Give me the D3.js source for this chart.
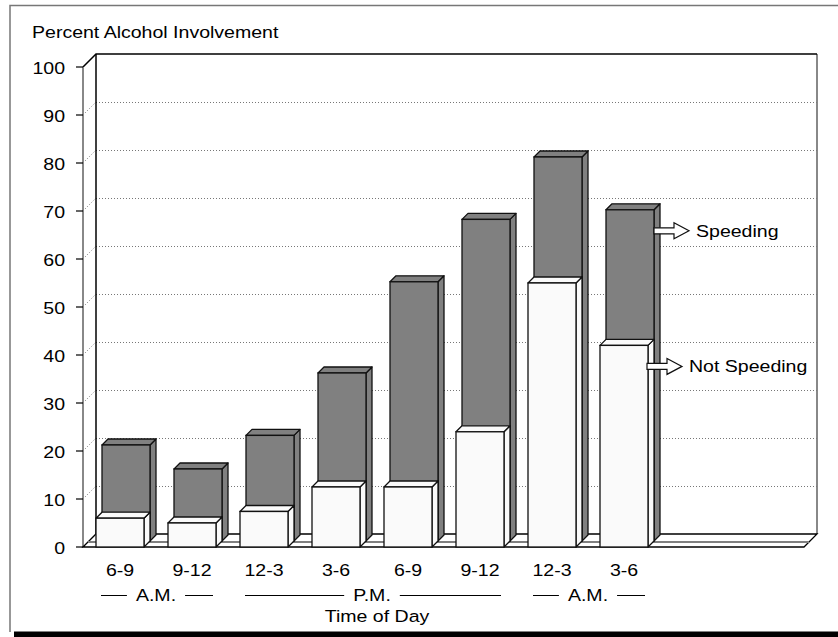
<!DOCTYPE html>
<html>
<head>
<meta charset="utf-8">
<script src="https://cdn.jsdelivr.net/npm/d3@7"></script>
<style>
  body { margin: 0; background: #fff; }
  text { font-family: "Liberation Sans", Arial, sans-serif; font-size: 17px; fill: #000; }
</style>
</head>
<body>
<div id="chart"></div>
<script>
// values
var timeLabels = ["6-9", "9-12", "12-3", "3-6", "6-9", "9-12", "12-3", "3-6"];
var speeding = [20, 15, 22, 35, 54, 67, 80, 69];
var notSpeeding = [6, 5, 7.4, 12.5, 12.5, 24, 55, 42];
var yTicks = [0, 10, 20, 30, 40, 50, 60, 70, 80, 90, 100];
var periods = [
    {name: "A.M.", first: 0, last: 1},
    {name: "P.M.", first: 2, last: 5},
    {name: "A.M.", first: 6, last: 7}
];
var slots = 10; // floor has room for 10 bars, only 8 used

var width = 838, height = 637;
var wallDepth = 13, barDepth = 6;
var stretch = 1.15; // text in the original is a bit wide

var svg = d3.select("#chart").append("svg")
    .attr("width", width)
    .attr("height", height);

var x = d3.scaleBand().domain(d3.range(slots)).range([84, 804])
    .paddingInner(1 / 3).paddingOuter(1 / 6);
var y = d3.scaleLinear().domain([0, 100]).range([547, 67]);

var left = 83, right = 804, base = y(0);

var addText = function(g, px, py, str, anchor) {
    return g.append("text")
        .attr("transform", "translate(" + px + "," + py + ") scale(" + stretch + ",1)")
        .style("text-anchor", anchor || "start")
        .text(str);
}

// outer frame
svg.append("path")
    .attr("d", "M10,632V5.5H" + (width + 5))
    .attr("fill", "none").attr("stroke", "#777").attr("stroke-width", 1.5);
svg.append("rect")
    .attr("x", 14).attr("y", 631.5).attr("width", width).attr("height", 6)
    .attr("fill", "#000");

addText(svg, 32, 38, "Percent Alcohol Involvement");

// back wall
var wall = svg.append("g");
wall.append("line")
    .attr("x1", right + wallDepth).attr("x2", right + wallDepth)
    .attr("y1", y(100) - wallDepth).attr("y2", base - wallDepth)
    .attr("stroke", "#888").attr("stroke-width", 2);

// grid lines on the wall and the side
var inner = yTicks.filter(function(d) { return d > 0 && d < 100; });
wall.selectAll("line.grid").data(inner)
    .enter().append("line")
    .attr("class", "grid")
    .attr("x1", left + wallDepth).attr("x2", right + wallDepth)
    .attr("y1", function(d) { return Math.round(y(d) - wallDepth) + 0.5; })
    .attr("y2", function(d) { return Math.round(y(d) - wallDepth) + 0.5; })
    .attr("stroke", "#777").attr("stroke-dasharray", "1,2");
wall.selectAll("line.diag").data(inner)
    .enter().append("line")
    .attr("class", "diag")
    .attr("x1", left).attr("x2", left + wallDepth)
    .attr("y1", function(d) { return y(d); })
    .attr("y2", function(d) { return y(d) - wallDepth; })
    .attr("stroke", "#777").attr("stroke-dasharray", "1,2");

wall.append("path")
    .attr("d", "M" + left + "," + y(100) + "L" + (left + wallDepth) + "," + (y(100) - wallDepth)
        + "H" + (right + wallDepth))
    .attr("fill", "none").attr("stroke", "#000").attr("stroke-width", 1.5);
wall.append("line")
    .attr("x1", left + wallDepth).attr("x2", left + wallDepth)
    .attr("y1", y(100) - wallDepth).attr("y2", base - wallDepth)
    .attr("stroke", "#000").attr("stroke-width", 1.5);
wall.append("line")
    .attr("x1", left).attr("x2", left)
    .attr("y1", y(100)).attr("y2", base)
    .attr("stroke", "#888").attr("stroke-width", 2);

// floor
var floor = svg.append("g");
floor.append("path")
    .attr("d", "M" + left + "," + base + "L" + (left + wallDepth) + "," + (base - wallDepth)
        + "H" + (right + wallDepth) + "L" + right + "," + base + "Z")
    .attr("fill", "#fff").attr("stroke", "#000").attr("stroke-width", 1.3);
floor.append("line")
    .attr("x1", left + 5).attr("x2", right + 5)
    .attr("y1", base - 5).attr("y2", base - 5)
    .attr("stroke", "#808080").attr("stroke-width", 2);

// y axis ticks
var axis = svg.append("g");
axis.selectAll("line").data(yTicks).enter().append("line")
    .attr("x1", left - 7).attr("x2", left)
    .attr("y1", function(d) { return y(d); })
    .attr("y2", function(d) { return y(d); })
    .attr("stroke", "#000").attr("stroke-width", 1.2);
yTicks.forEach(function(d) {
    addText(axis, 65, y(d) + 7, d, "end");
});

// one 3d box: front face, top, right side
var drawBox = function(g, x0, w, yTop, yBase, fill) {
    var d = barDepth;
    g.append("path")
        .attr("d", "M" + (x0 + w) + "," + yBase + "V" + yTop + "L" + (x0 + w + d) + "," + (yTop - d)
            + "V" + (yBase - d) + "Z")
        .attr("fill", fill).attr("stroke", "#111").attr("stroke-width", 1.3)
        .attr("stroke-linejoin", "round");
    g.append("path")
        .attr("d", "M" + x0 + "," + yTop + "L" + (x0 + d) + "," + (yTop - d) + "H" + (x0 + w + d)
            + "L" + (x0 + w) + "," + yTop + "Z")
        .attr("fill", fill).attr("stroke", "#111").attr("stroke-width", 1.3)
        .attr("stroke-linejoin", "round");
    g.append("rect")
        .attr("x", x0).attr("y", yTop).attr("width", w).attr("height", yBase - yTop)
        .attr("fill", fill).attr("stroke", "#111").attr("stroke-width", 1.3);
}

var bars = svg.append("g");
// back row: speeding
speeding.forEach(function(v, i) {
    drawBox(bars, x(i) + barDepth, x.bandwidth(), y(v) - barDepth, base - barDepth, "#808080");
});
// front row: not speeding
notSpeeding.forEach(function(v, i) {
    drawBox(bars, x(i), x.bandwidth(), y(v), base, "#fafafa");
});

// legend arrows on the last bar
var arrow = function(px, py) {
    return "M" + px + "," + (py - 3) + "H" + (px + 20) + "V" + (py - 8) + "L" + (px + 35) + "," + py
        + "L" + (px + 20) + "," + (py + 8) + "V" + (py + 3) + "H" + px + "Z";
}
var last = speeding.length - 1;
var legend = svg.append("g");
var lx1 = x(last) + barDepth + x.bandwidth(), ly1 = y(speeding[last]) - barDepth + 21;
var lx2 = x(last) + x.bandwidth() - 1, ly2 = y(notSpeeding[last]) + 21;
legend.append("path").attr("d", arrow(lx1, ly1))
    .attr("fill", "#fff").attr("stroke", "#111").attr("stroke-width", 1.2);
addText(legend, lx1 + 42, ly1 + 6, "Speeding");
legend.append("path").attr("d", arrow(lx2, ly2))
    .attr("fill", "#fff").attr("stroke", "#111").attr("stroke-width", 1.2);
addText(legend, lx2 + 42, ly2 + 6, "Not Speeding");

// category labels
var labels = svg.append("g");
timeLabels.forEach(function(t, i) {
    addText(labels, x(i) + x.bandwidth() / 2, 576, t, "middle");
});

// A.M. / P.M. brackets
periods.forEach(function(p) {
    var x0 = x(p.first), x1 = x(p.last) + x.bandwidth();
    var cx = (x0 + x1) / 2;
    var t = addText(labels, cx, 601, p.name, "middle");
    var half = t.node().getComputedTextLength() * stretch / 2;
    labels.append("line")
        .attr("x1", x0 + 5).attr("x2", cx - half - 9)
        .attr("y1", 595.5).attr("y2", 595.5)
        .attr("stroke", "#000").attr("stroke-width", 1);
    labels.append("line")
        .attr("x1", cx + half + 9).attr("x2", x1 - 3)
        .attr("y1", 595.5).attr("y2", 595.5)
        .attr("stroke", "#000").attr("stroke-width", 1);
});

addText(labels, 377, 622, "Time of Day", "middle");
</script>
</body>
</html>
